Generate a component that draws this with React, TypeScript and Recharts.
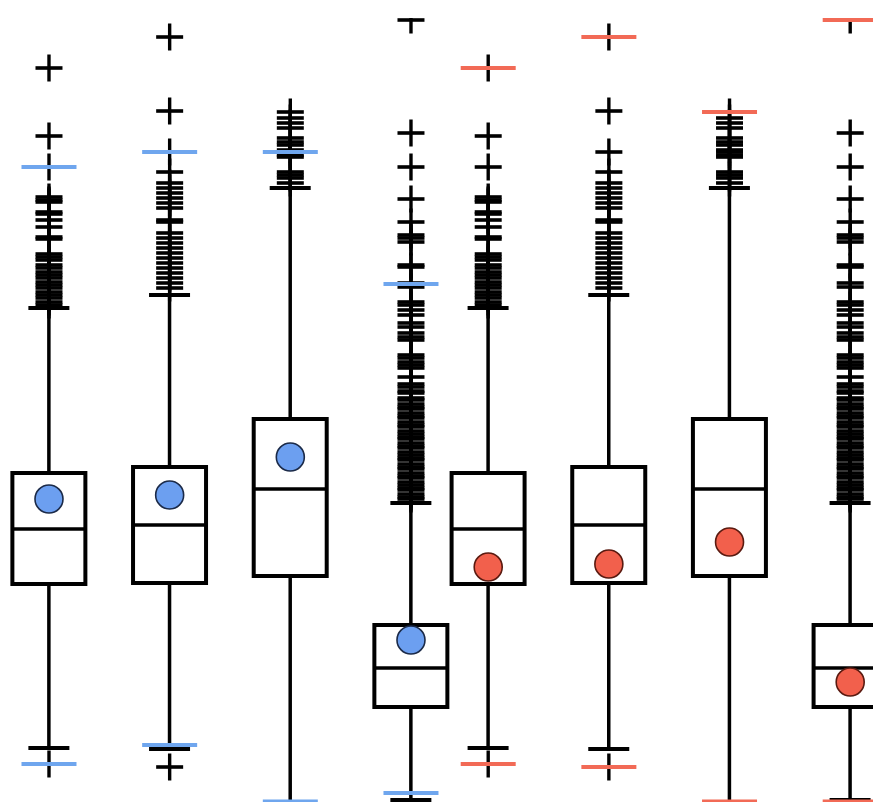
import React from "react";
import { ComposedChart, Bar, Scatter, XAxis, YAxis } from "recharts";

// Positions of the eight boxes (two groups of four)
const boxX = [1, 2, 3, 4, 4.64, 5.64, 6.64, 7.64];
const groupOfBox = ["blue", "blue", "blue", "blue", "red", "red", "red", "red"];

// Box statistics
const q1 = [21.8, 21.9, 22.6, 9.5, 21.8, 21.9, 22.6, 9.5];
const median = [27.3, 27.7, 31.3, 13.4, 27.3, 27.7, 31.3, 13.4];
const q3 = [32.9, 33.5, 38.3, 17.7, 32.9, 33.5, 38.3, 17.7];
const whiskerLow = [5.4, 5.3, -3, 0.2, 5.4, 5.3, -3, 0.2];
const whiskerHigh = [49.4, 50.7, 61.4, 29.9, 49.4, 50.7, 61.4, 29.9];

// Mean markers and coloured reference marks
const means = [30.3, 30.7, 34.5, 16.2, 23.5, 23.8, 26.0, 12.0];
const upperMarks = [63.5, 65.0, 65.0, 51.8, 73.4, 76.5, 69.0, 78.2];
const lowerMarks = [3.8, 5.7, 0.05, 0.9, 3.8, 3.5, 0.05, 0.05];

// Outliers of the four distributions
const outliersA = [73.4, 66.6, 63.5, 60.5, 60.2, 60.0, 59.0, 58.8, 58.2, 57.5, 56.5, 56.3, 54.8, 54.5, 54.2, 53.7, 53.4, 53.0, 52.7, 52.4, 52.0, 51.7, 51.4, 51.0, 50.7, 50.4, 50.0, 49.7, 3.8];
const outliersB = [76.5, 69.1, 65.0, 63.0, 61.9, 61.4, 60.9, 60.4, 59.9, 59.4, 58.2, 58.0, 56.9, 56.4, 55.9, 55.4, 54.9, 54.4, 53.9, 53.4, 52.9, 52.4, 51.9, 51.4, 3.5];
const outliersC = [69.0, 68.4, 67.9, 67.4, 66.4, 66.0, 65.7, 65.2, 65.0, 64.7, 64.5, 63.0, 62.7, 62.4, 61.9];
const outliersD = [78.2, 66.9, 63.5, 60.3, 58.0, 56.7, 56.4, 56.0, 53.7, 53.5, 51.9, 51.5, 50.0, 49.7, 49.2, 48.7, 47.9, 47.5, 46.9, 46.5, 46.2, 44.7, 44.4, 44.0, 43.7, 43.4, 42.5,
  41.8, 41.5, 41.1, 40.9, 40.4, 40.2, 39.8, 39.5, 39.3, 38.9, 38.6, 38.4, 38.0, 37.7, 37.5, 37.1, 36.8, 36.5, 36.3, 35.9, 35.6, 35.4, 35.0, 34.7, 34.4, 34.2, 33.8, 33.5, 33.3, 32.9, 32.6, 32.4, 32.0, 31.7, 31.4, 31.2, 30.8, 30.5, 30.3];
const outliersOfBox = [outliersA, outliersB, outliersC, outliersD, outliersA, outliersB, outliersC, outliersD];

const COLORS: Record<string, { line: string; fill: string; stroke: string }> = {
  blue: { line: "#6fa6ee", fill: "#6c9ff0", stroke: "#1b2a48" },
  red: { line: "#f26a56", fill: "#f2604c", stroke: "#5a1a10" },
};

const boxData = boxX.map((x, i) => ({
  x,
  range: [q1[i], q3[i]],
  q1: q1[i],
  med: median[i],
  q3: q3[i],
  lo: whiskerLow[i],
  hi: whiskerHigh[i],
}));

const outlierData = boxX.flatMap((x, i) => outliersOfBox[i].map((y) => ({ x, y })));
const meanData = boxX.map((x, i) => ({ x, y: means[i], g: groupOfBox[i] }));
const markData = boxX.flatMap((x, i) => [
  { x, y: upperMarks[i], g: groupOfBox[i] },
  { x, y: lowerMarks[i], g: groupOfBox[i] },
]);

const BOX_W = 73;
const CAP_W = 41;

const BoxShape = (props: any) => {
  const { x, y, width, height } = props;
  const p = props.payload ?? props;
  if (x == null || y == null) return null;
  const top = Math.min(y, y + height);
  const h = Math.abs(height);
  const k = h / (p.q3 - p.q1);
  const py = (v: number) => top + (p.q3 - v) * k;
  const cx = x + width / 2;
  const yHi = py(p.hi);
  const yLo = py(p.lo);
  const yMed = py(p.med);
  return (
    <g>
      <line x1={cx} x2={cx} y1={yHi} y2={top} stroke="#000" strokeWidth={3.5} />
      <line x1={cx} x2={cx} y1={top + h} y2={yLo} stroke="#000" strokeWidth={3.5} />
      <line x1={cx - CAP_W / 2} x2={cx + CAP_W / 2} y1={yHi} y2={yHi} stroke="#000" strokeWidth={4} />
      <line x1={cx - CAP_W / 2} x2={cx + CAP_W / 2} y1={yLo} y2={yLo} stroke="#000" strokeWidth={4} />
      <rect x={cx - BOX_W / 2} y={top} width={BOX_W} height={h} fill="#fff" stroke="#000" strokeWidth={4} />
      <line x1={cx - BOX_W / 2} x2={cx + BOX_W / 2} y1={yMed} y2={yMed} stroke="#000" strokeWidth={3.5} />
    </g>
  );
};

const PlusShape = (props: any) => {
  const { cx, cy } = props;
  if (cx == null || cy == null) return null;
  const a = 13.5;
  return (
    <g>
      <line x1={cx - a} x2={cx + a} y1={cy} y2={cy} stroke="#000" strokeWidth={3.6} />
      <line x1={cx} x2={cx} y1={cy - a} y2={cy + a} stroke="#000" strokeWidth={3.4} />
    </g>
  );
};

const MarkShape = (props: any) => {
  const { cx, cy } = props;
  const g = props.payload?.g ?? props.g;
  if (cx == null || cy == null) return null;
  return <line x1={cx - 27.5} x2={cx + 27.5} y1={cy} y2={cy} stroke={COLORS[g].line} strokeWidth={4.2} />;
};

const MeanShape = (props: any) => {
  const { cx, cy } = props;
  const g = props.payload?.g ?? props.g;
  if (cx == null || cy == null) return null;
  return <circle cx={cx} cy={cy} r={14} fill={COLORS[g].fill} stroke={COLORS[g].stroke} strokeWidth={1.6} />;
};

export default function App() {
  return (
    <div style={{ position: "absolute", left: 0, top: 0, width: 873, height: 802, background: "#fff" }}>
      <ComposedChart width={873} height={802} data={boxData} margin={{ top: 18, right: 0, bottom: 0, left: 0 }}>
        <XAxis type="number" dataKey="x" domain={[0.594, 7.829]} hide allowDataOverflow />
        <YAxis type="number" dataKey="y" domain={[0, 78.4]} hide allowDataOverflow />
        <Bar dataKey="range" barSize={BOX_W} shape={BoxShape} isAnimationActive={false} />
        <Scatter data={outlierData} shape={PlusShape} isAnimationActive={false} />
        <Scatter data={meanData} shape={MeanShape} isAnimationActive={false} />
        <Scatter data={markData} shape={MarkShape} isAnimationActive={false} />
      </ComposedChart>
    </div>
  );
}
